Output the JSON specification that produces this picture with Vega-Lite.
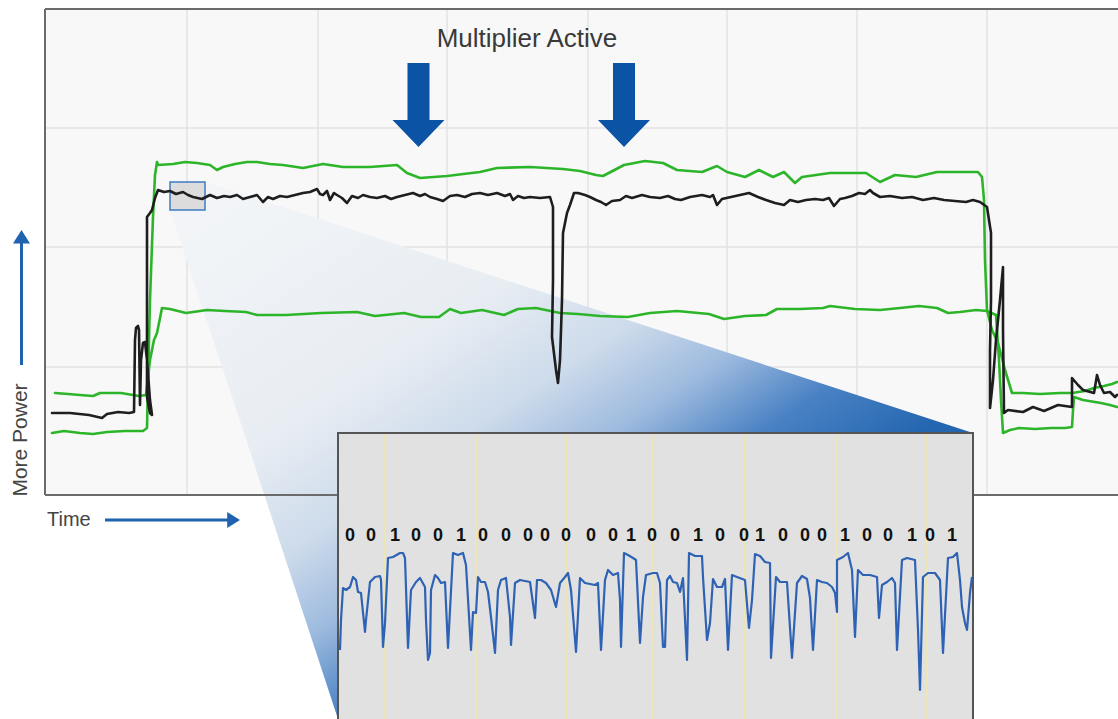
{
"$schema":"https://vega.github.io/schema/vega-lite/v6.json",
"width":1118,"height":719,"autosize":"none","padding":0,"background":"white",
"config":{"view":{"stroke":null}},
"encoding":{
 "x":{"field":"x","type":"quantitative","scale":{"domain":[0,1118],"nice":false,"zero":false},"axis":null},
 "y":{"field":"y","type":"quantitative","scale":{"domain":[0,719],"reverse":true,"nice":false,"zero":false},"axis":null}
},
"layer":[
{"data":{"values":[{"x":45,"x2":1118,"y":9,"y2":495}]},"mark":{"type":"rect","color":"#f8f8f8"},"encoding":{"x2":{"field":"x2"},"y2":{"field":"y2"}}},
{"data":{"values":[
 {"x":187,"x2":187,"y":9,"y2":495},{"x":318,"x2":318,"y":9,"y2":495},{"x":447,"x2":447,"y":9,"y2":495},{"x":588,"x2":588,"y":9,"y2":495},{"x":727,"x2":727,"y":9,"y2":495},{"x":857,"x2":857,"y":9,"y2":495},{"x":987,"x2":987,"y":9,"y2":495},
 {"x":45,"x2":1118,"y":128,"y2":128},{"x":45,"x2":1118,"y":247,"y2":247},{"x":45,"x2":1118,"y":367,"y2":367}]},
 "mark":{"type":"rule","color":"#e3e3e3","strokeWidth":1.5},"encoding":{"x2":{"field":"x2"},"y2":{"field":"y2"}}},
{"data":{"values":[{"x":206,"x2":206,"y":182},{"x":170,"x2":292,"y":210},{"x":244,"x2":973,"y":433},{"x":338,"x2":338,"y":719}]},
 "mark":{"type":"area","orient":"horizontal","color":{"gradient":"linear","x1":0,"y1":0,"x2":1,"y2":1,"stops":[
  {"offset":0,"color":"#f4f6f8"},{"offset":0.3,"color":"#e8edf3"},{"offset":0.42,"color":"#cddbeb"},{"offset":0.51,"color":"#9dbade"},{"offset":0.6,"color":"#4a82c4"},{"offset":0.7,"color":"#2466b0"},{"offset":1,"color":"#1e5fa8"}]}},
 "encoding":{"x2":{"field":"x2"}}},
{"data":{"values":[{"x":45,"x2":1118,"y":9,"y2":9},{"x":45,"x2":45,"y":9,"y2":495},{"x":45,"x2":1118,"y":495,"y2":495}]},
 "mark":{"type":"rule","color":"#6b6b6b","strokeWidth":2},"encoding":{"x2":{"field":"x2"},"y2":{"field":"y2"}}},
{"data":{"values":[{"x":170,"x2":205,"y":182,"y2":210}]},"mark":{"type":"rect","fill":"#dcdcdc","stroke":"#3d7cc4","strokeWidth":1.5},"encoding":{"x2":{"field":"x2"},"y2":{"field":"y2"}}},
{"data":{"values":[
 {"s":"g1","x":52,"y":433},{"s":"g1","x":64,"y":431},{"s":"g1","x":80,"y":433},{"s":"g1","x":93,"y":434},{"s":"g1","x":107,"y":432},{"s":"g1","x":125,"y":431},{"s":"g1","x":143,"y":431},{"s":"g1","x":147,"y":428},{"s":"g1","x":148,"y":380},{"s":"g1","x":150,"y":300},{"s":"g1","x":153,"y":217},{"s":"g1","x":155,"y":175},{"s":"g1","x":157,"y":162},{"s":"g1","x":158,"y":165},{"s":"g1","x":173,"y":164},{"s":"g1","x":185,"y":162},{"s":"g1","x":197,"y":163},{"s":"g1","x":210,"y":165},{"s":"g1","x":217,"y":170},{"s":"g1","x":223,"y":167},{"s":"g1","x":235,"y":164},{"s":"g1","x":247,"y":162},{"s":"g1","x":257,"y":162},{"s":"g1","x":270,"y":164},{"s":"g1","x":283,"y":165},{"s":"g1","x":303,"y":168},{"s":"g1","x":323,"y":164},{"s":"g1","x":343,"y":167},{"s":"g1","x":370,"y":167},{"s":"g1","x":397,"y":165},{"s":"g1","x":407,"y":173},{"s":"g1","x":420,"y":178},{"s":"g1","x":447,"y":176},{"s":"g1","x":480,"y":172},{"s":"g1","x":497,"y":168},{"s":"g1","x":530,"y":167},{"s":"g1","x":563,"y":169},{"s":"g1","x":580,"y":171},{"s":"g1","x":596,"y":175},{"s":"g1","x":603,"y":176},{"s":"g1","x":624,"y":165},{"s":"g1","x":645,"y":161},{"s":"g1","x":663,"y":163},{"s":"g1","x":677,"y":170},{"s":"g1","x":702,"y":172},{"s":"g1","x":717,"y":166},{"s":"g1","x":727,"y":172},{"s":"g1","x":745,"y":177},{"s":"g1","x":759,"y":170},{"s":"g1","x":773,"y":177},{"s":"g1","x":784,"y":172},{"s":"g1","x":795,"y":183},{"s":"g1","x":802,"y":177},{"s":"g1","x":830,"y":173},{"s":"g1","x":866,"y":173},{"s":"g1","x":880,"y":182},{"s":"g1","x":895,"y":175},{"s":"g1","x":916,"y":177},{"s":"g1","x":937,"y":172},{"s":"g1","x":960,"y":172},{"s":"g1","x":978,"y":172},{"s":"g1","x":982,"y":177},{"s":"g1","x":984,"y":200},{"s":"g1","x":985,"y":260},{"s":"g1","x":987,"y":310},{"s":"g1","x":992,"y":330},{"s":"g1","x":998,"y":343},{"s":"g1","x":1005,"y":370},{"s":"g1","x":1012,"y":393},{"s":"g1","x":1023,"y":393},{"s":"g1","x":1040,"y":394},{"s":"g1","x":1060,"y":393},{"s":"g1","x":1072,"y":393},{"s":"g1","x":1085,"y":391},{"s":"g1","x":1094,"y":388},{"s":"g1","x":1104,"y":386},{"s":"g1","x":1112,"y":384},{"s":"g1","x":1117,"y":382},
 {"s":"g2","x":55,"y":393},{"s":"g2","x":68,"y":394},{"s":"g2","x":80,"y":395},{"s":"g2","x":93,"y":396},{"s":"g2","x":100,"y":393},{"s":"g2","x":121,"y":393},{"s":"g2","x":139,"y":396},{"s":"g2","x":146,"y":395},{"s":"g2","x":150,"y":360},{"s":"g2","x":154,"y":340},{"s":"g2","x":157,"y":333},{"s":"g2","x":160,"y":318},{"s":"g2","x":162,"y":308},{"s":"g2","x":170,"y":309},{"s":"g2","x":186,"y":313},{"s":"g2","x":207,"y":310},{"s":"g2","x":225,"y":311},{"s":"g2","x":246,"y":312},{"s":"g2","x":257,"y":315},{"s":"g2","x":286,"y":315},{"s":"g2","x":321,"y":313},{"s":"g2","x":357,"y":312},{"s":"g2","x":375,"y":316},{"s":"g2","x":404,"y":313},{"s":"g2","x":421,"y":317},{"s":"g2","x":439,"y":317},{"s":"g2","x":450,"y":309},{"s":"g2","x":461,"y":313},{"s":"g2","x":482,"y":310},{"s":"g2","x":504,"y":315},{"s":"g2","x":518,"y":309},{"s":"g2","x":536,"y":308},{"s":"g2","x":560,"y":313},{"s":"g2","x":578,"y":314},{"s":"g2","x":600,"y":316},{"s":"g2","x":628,"y":317},{"s":"g2","x":650,"y":313},{"s":"g2","x":677,"y":311},{"s":"g2","x":709,"y":314},{"s":"g2","x":724,"y":319},{"s":"g2","x":745,"y":316},{"s":"g2","x":766,"y":315},{"s":"g2","x":777,"y":309},{"s":"g2","x":800,"y":309},{"s":"g2","x":823,"y":308},{"s":"g2","x":830,"y":306},{"s":"g2","x":855,"y":309},{"s":"g2","x":880,"y":310},{"s":"g2","x":900,"y":308},{"s":"g2","x":919,"y":306},{"s":"g2","x":937,"y":308},{"s":"g2","x":948,"y":313},{"s":"g2","x":960,"y":312},{"s":"g2","x":976,"y":310},{"s":"g2","x":987,"y":311},{"s":"g2","x":996,"y":315},{"s":"g2","x":999,"y":360},{"s":"g2","x":1001,"y":400},{"s":"g2","x":1003,"y":433},{"s":"g2","x":1010,"y":430},{"s":"g2","x":1019,"y":428},{"s":"g2","x":1035,"y":429},{"s":"g2","x":1051,"y":428},{"s":"g2","x":1065,"y":428},{"s":"g2","x":1072,"y":427},{"s":"g2","x":1073,"y":410},{"s":"g2","x":1074,"y":397},{"s":"g2","x":1083,"y":400},{"s":"g2","x":1101,"y":403},{"s":"g2","x":1110,"y":405},{"s":"g2","x":1117,"y":407},
 {"s":"k","x":52,"y":413},{"s":"k","x":70,"y":413},{"s":"k","x":89,"y":415},{"s":"k","x":102,"y":418},{"s":"k","x":107,"y":414},{"s":"k","x":118,"y":412},{"s":"k","x":129,"y":413},{"s":"k","x":134,"y":412},{"s":"k","x":135,"y":340},{"s":"k","x":136,"y":328},{"s":"k","x":138,"y":326},{"s":"k","x":139,"y":330},{"s":"k","x":140,"y":405},{"s":"k","x":141,"y":360},{"s":"k","x":143,"y":343},{"s":"k","x":145,"y":342},{"s":"k","x":147,"y":360},{"s":"k","x":150,"y":400},{"s":"k","x":152,"y":415},{"s":"k","x":150,"y":413},{"s":"k","x":147,"y":397},{"s":"k","x":147,"y":300},{"s":"k","x":147,"y":217},{"s":"k","x":150,"y":213},{"s":"k","x":152,"y":210},{"s":"k","x":155,"y":198},{"s":"k","x":158,"y":190},{"s":"k","x":164,"y":192},{"s":"k","x":170,"y":191},{"s":"k","x":176,"y":194},{"s":"k","x":183,"y":192},{"s":"k","x":188,"y":195},{"s":"k","x":193,"y":197},{"s":"k","x":202,"y":199},{"s":"k","x":210,"y":195},{"s":"k","x":217,"y":198},{"s":"k","x":224,"y":196},{"s":"k","x":230,"y":197},{"s":"k","x":237,"y":195},{"s":"k","x":243,"y":199},{"s":"k","x":250,"y":197},{"s":"k","x":257,"y":195},{"s":"k","x":263,"y":202},{"s":"k","x":268,"y":197},{"s":"k","x":273,"y":199},{"s":"k","x":280,"y":196},{"s":"k","x":287,"y":197},{"s":"k","x":295,"y":195},{"s":"k","x":303,"y":193},{"s":"k","x":310,"y":192},{"s":"k","x":317,"y":189},{"s":"k","x":320,"y":194},{"s":"k","x":323,"y":195},{"s":"k","x":327,"y":191},{"s":"k","x":330,"y":200},{"s":"k","x":334,"y":193},{"s":"k","x":337,"y":195},{"s":"k","x":342,"y":198},{"s":"k","x":347,"y":203},{"s":"k","x":352,"y":196},{"s":"k","x":358,"y":198},{"s":"k","x":363,"y":195},{"s":"k","x":370,"y":197},{"s":"k","x":377,"y":198},{"s":"k","x":385,"y":196},{"s":"k","x":391,"y":199},{"s":"k","x":397,"y":197},{"s":"k","x":405,"y":195},{"s":"k","x":413,"y":193},{"s":"k","x":420,"y":196},{"s":"k","x":425,"y":194},{"s":"k","x":430,"y":197},{"s":"k","x":437,"y":199},{"s":"k","x":443,"y":201},{"s":"k","x":450,"y":196},{"s":"k","x":457,"y":195},{"s":"k","x":465,"y":197},{"s":"k","x":472,"y":194},{"s":"k","x":480,"y":193},{"s":"k","x":488,"y":195},{"s":"k","x":497,"y":193},{"s":"k","x":505,"y":196},{"s":"k","x":510,"y":194},{"s":"k","x":513,"y":200},{"s":"k","x":518,"y":196},{"s":"k","x":524,"y":198},{"s":"k","x":530,"y":197},{"s":"k","x":540,"y":198},{"s":"k","x":550,"y":197},{"s":"k","x":553,"y":207},{"s":"k","x":553,"y":280},{"s":"k","x":552,"y":337},{"s":"k","x":556,"y":370},{"s":"k","x":558,"y":383},{"s":"k","x":560,"y":360},{"s":"k","x":562,"y":300},{"s":"k","x":563,"y":233},{"s":"k","x":567,"y":213},{"s":"k","x":570,"y":205},{"s":"k","x":574,"y":193},{"s":"k","x":578,"y":193},{"s":"k","x":585,"y":195},{"s":"k","x":590,"y":197},{"s":"k","x":596,"y":200},{"s":"k","x":601,"y":202},{"s":"k","x":606,"y":205},{"s":"k","x":612,"y":201},{"s":"k","x":620,"y":200},{"s":"k","x":626,"y":196},{"s":"k","x":632,"y":198},{"s":"k","x":642,"y":195},{"s":"k","x":650,"y":197},{"s":"k","x":660,"y":198},{"s":"k","x":668,"y":196},{"s":"k","x":675,"y":199},{"s":"k","x":681,"y":200},{"s":"k","x":690,"y":197},{"s":"k","x":702,"y":195},{"s":"k","x":710,"y":197},{"s":"k","x":713,"y":195},{"s":"k","x":717,"y":205},{"s":"k","x":722,"y":199},{"s":"k","x":731,"y":197},{"s":"k","x":740,"y":195},{"s":"k","x":749,"y":193},{"s":"k","x":758,"y":197},{"s":"k","x":766,"y":200},{"s":"k","x":775,"y":203},{"s":"k","x":784,"y":205},{"s":"k","x":790,"y":200},{"s":"k","x":798,"y":202},{"s":"k","x":806,"y":200},{"s":"k","x":815,"y":199},{"s":"k","x":823,"y":200},{"s":"k","x":829,"y":198},{"s":"k","x":834,"y":206},{"s":"k","x":840,"y":199},{"s":"k","x":845,"y":198},{"s":"k","x":852,"y":196},{"s":"k","x":859,"y":193},{"s":"k","x":865,"y":194},{"s":"k","x":870,"y":190},{"s":"k","x":873,"y":193},{"s":"k","x":880,"y":197},{"s":"k","x":890,"y":196},{"s":"k","x":902,"y":198},{"s":"k","x":912,"y":197},{"s":"k","x":923,"y":200},{"s":"k","x":934,"y":198},{"s":"k","x":944,"y":200},{"s":"k","x":955,"y":201},{"s":"k","x":966,"y":202},{"s":"k","x":973,"y":200},{"s":"k","x":980,"y":202},{"s":"k","x":987,"y":207},{"s":"k","x":991,"y":233},{"s":"k","x":991,"y":300},{"s":"k","x":990,"y":350},{"s":"k","x":990,"y":408},{"s":"k","x":993,"y":380},{"s":"k","x":996,"y":340},{"s":"k","x":1000,"y":300},{"s":"k","x":1003,"y":267},{"s":"k","x":1003,"y":330},{"s":"k","x":1004,"y":413},{"s":"k","x":1008,"y":410},{"s":"k","x":1023,"y":412},{"s":"k","x":1033,"y":407},{"s":"k","x":1044,"y":411},{"s":"k","x":1058,"y":405},{"s":"k","x":1072,"y":407},{"s":"k","x":1072,"y":378},{"s":"k","x":1078,"y":385},{"s":"k","x":1083,"y":390},{"s":"k","x":1094,"y":393},{"s":"k","x":1097,"y":375},{"s":"k","x":1100,"y":385},{"s":"k","x":1104,"y":393},{"s":"k","x":1110,"y":392},{"s":"k","x":1115,"y":397},{"s":"k","x":1117,"y":395}]},
 "mark":{"type":"line","order":false,"strokeWidth":2.6,"strokeJoin":"round","strokeCap":"round"},
 "encoding":{"color":{"field":"s","type":"nominal","scale":{"domain":["g1","g2","k"],"range":["#2db52a","#2db52a","#1e1e1e"]},"legend":null}}},
{"data":{"values":[{"x":418.5,"y":105},{"x":624,"y":105}]},
 "mark":{"type":"point","filled":true,"opacity":1,"strokeWidth":0,"color":"#0b53a5","size":7056,"shape":"M-0.262,-1 L0.262,-1 L0.262,0.357 L0.619,0.357 L0,1 L-0.619,0.357 L-0.262,0.357 Z"}},
{"data":{"values":[{"x":527,"y":47,"t":"Multiplier Active"}]},
 "mark":{"type":"text","font":"Liberation Sans","fontSize":26,"color":"#3a3a3a","align":"center","baseline":"alphabetic"},"encoding":{"text":{"field":"t"}}},
{"data":{"values":[{"x":47,"y":526,"t":"Time"}]},
 "mark":{"type":"text","font":"Liberation Sans","fontSize":20,"color":"#444444","align":"left","baseline":"alphabetic"},"encoding":{"text":{"field":"t"}}},
{"data":{"values":[{"x":27,"y":440,"t":"More Power"}]},
 "mark":{"type":"text","font":"Liberation Sans","fontSize":21,"color":"#444444","align":"center","baseline":"alphabetic","angle":270},"encoding":{"text":{"field":"t"}}},
{"data":{"values":[{"x":105,"x2":232,"y":520,"y2":520},{"x":21.5,"x2":21.5,"y":240,"y2":365}]},
 "mark":{"type":"rule","color":"#1f62b0","strokeWidth":3},"encoding":{"x2":{"field":"x2"},"y2":{"field":"y2"}}},
{"data":{"values":[{"x":233.6,"y":520}]},
 "mark":{"type":"point","filled":true,"opacity":1,"strokeWidth":0,"color":"#1f62b0","size":256,"shape":"M-0.8,-1 L0.8,0 L-0.8,1 Z"}},
{"data":{"values":[{"x":21.5,"y":236.8}]},
 "mark":{"type":"point","filled":true,"opacity":1,"strokeWidth":0,"color":"#1f62b0","size":289,"shape":"M-1,0.8 L0,-0.8 L1,0.8 Z"}},
{"data":{"values":[{"x":338,"x2":973,"y":433,"y2":719}]},"mark":{"type":"rect","color":"#e1e1e1"},"encoding":{"x2":{"field":"x2"},"y2":{"field":"y2"}}},
{"data":{"values":[{"x":385,"x2":385,"y":434,"y2":719},{"x":476,"x2":476,"y":434,"y2":719},{"x":567,"x2":567,"y":434,"y2":719},{"x":652,"x2":652,"y":434,"y2":719},{"x":744,"x2":744,"y":434,"y2":719},{"x":836,"x2":836,"y":434,"y2":719},{"x":927,"x2":927,"y":434,"y2":719}]},
 "mark":{"type":"rule","color":"#efe6a6","strokeWidth":1.5},"encoding":{"x2":{"field":"x2"},"y2":{"field":"y2"}}},
{"data":{"values":[{"x":337,"x2":974,"y":433,"y2":433},{"x":338,"x2":338,"y":433,"y2":719},{"x":973,"x2":973,"y":433,"y2":719}]},
 "mark":{"type":"rule","color":"#555555","strokeWidth":2},"encoding":{"x2":{"field":"x2"},"y2":{"field":"y2"}}},
{"data":{"values":[
 {"x":350,"y":541,"b":"0"},{"x":371,"y":541,"b":"0"},{"x":395,"y":541,"b":"1"},{"x":416,"y":541,"b":"0"},{"x":438,"y":541,"b":"0"},{"x":461,"y":541,"b":"1"},{"x":483,"y":541,"b":"0"},{"x":506,"y":541,"b":"0"},{"x":528,"y":541,"b":"0"},{"x":545,"y":541,"b":"0"},{"x":566,"y":541,"b":"0"},{"x":591,"y":541,"b":"0"},{"x":613,"y":541,"b":"0"},{"x":631,"y":541,"b":"1"},{"x":652,"y":541,"b":"0"},{"x":675,"y":541,"b":"0"},{"x":698,"y":541,"b":"1"},{"x":720,"y":541,"b":"0"},{"x":744,"y":541,"b":"0"},{"x":760,"y":541,"b":"1"},{"x":783,"y":541,"b":"0"},{"x":805,"y":541,"b":"0"},{"x":822,"y":541,"b":"0"},{"x":845,"y":541,"b":"1"},{"x":867,"y":541,"b":"0"},{"x":888,"y":541,"b":"0"},{"x":912,"y":541,"b":"1"},{"x":930,"y":541,"b":"0"},{"x":952,"y":541,"b":"1"}]},
 "mark":{"type":"text","font":"Liberation Sans","fontWeight":"bold","fontSize":18,"color":"#111111","align":"center","baseline":"alphabetic"},
 "encoding":{"text":{"field":"b","type":"nominal"}}},
{"data":{"values":[
 {"x":340,"y":650},{"x":341,"y":620},{"x":343,"y":588},{"x":346,"y":590},{"x":350,"y":587},{"x":353,"y":577},{"x":356,"y":580},{"x":358,"y":592},{"x":361,"y":593},{"x":365,"y":632},{"x":366,"y":620},{"x":370,"y":582},{"x":375,"y":577},{"x":380,"y":576},{"x":381,"y":580},{"x":383,"y":647},{"x":385,"y":623},{"x":388,"y":558},{"x":393,"y":557},{"x":400,"y":553},{"x":403,"y":553},{"x":405,"y":558},{"x":408,"y":648},{"x":411,"y":590},{"x":416,"y":582},{"x":420,"y":578},{"x":425,"y":587},{"x":426,"y":620},{"x":428,"y":660},{"x":430,"y":653},{"x":431,"y":590},{"x":435,"y":575},{"x":438,"y":578},{"x":441,"y":583},{"x":445,"y":582},{"x":448,"y":648},{"x":453,"y":553},{"x":458,"y":555},{"x":463,"y":553},{"x":466,"y":565},{"x":471,"y":650},{"x":473,"y":612},{"x":476,"y":613},{"x":478,"y":577},{"x":481,"y":582},{"x":485,"y":582},{"x":488,"y":592},{"x":491,"y":617},{"x":495,"y":653},{"x":498,"y":590},{"x":501,"y":580},{"x":506,"y":578},{"x":510,"y":617},{"x":511,"y":645},{"x":515,"y":583},{"x":520,"y":580},{"x":530,"y":582},{"x":535,"y":618},{"x":537,"y":580},{"x":541,"y":580},{"x":546,"y":583},{"x":551,"y":590},{"x":556,"y":607},{"x":560,"y":583},{"x":565,"y":577},{"x":568,"y":573},{"x":571,"y":590},{"x":576,"y":652},{"x":580,"y":578},{"x":585,"y":583},{"x":595,"y":585},{"x":598,"y":583},{"x":601,"y":650},{"x":605,"y":580},{"x":608,"y":570},{"x":613,"y":575},{"x":618,"y":573},{"x":620,"y":600},{"x":621,"y":647},{"x":624,"y":553},{"x":628,"y":555},{"x":633,"y":558},{"x":636,"y":560},{"x":640,"y":643},{"x":643,"y":597},{"x":646,"y":575},{"x":653,"y":573},{"x":657,"y":573},{"x":660,"y":583},{"x":663,"y":647},{"x":665,"y":647},{"x":667,"y":580},{"x":670,"y":576},{"x":673,"y":582},{"x":677,"y":583},{"x":680,"y":592},{"x":683,"y":578},{"x":687,"y":660},{"x":689,"y":553},{"x":695,"y":556},{"x":702,"y":556},{"x":703,"y":577},{"x":707,"y":640},{"x":710,"y":623},{"x":713,"y":579},{"x":717,"y":587},{"x":722,"y":587},{"x":725,"y":579},{"x":728,"y":650},{"x":732,"y":575},{"x":737,"y":577},{"x":745,"y":580},{"x":749,"y":628},{"x":752,"y":600},{"x":755,"y":554},{"x":760,"y":556},{"x":765,"y":562},{"x":770,"y":563},{"x":771,"y":658},{"x":776,"y":577},{"x":780,"y":582},{"x":787,"y":582},{"x":792,"y":658},{"x":797,"y":583},{"x":802,"y":576},{"x":807,"y":579},{"x":810,"y":598},{"x":813,"y":650},{"x":817,"y":580},{"x":822,"y":582},{"x":827,"y":583},{"x":832,"y":587},{"x":835,"y":593},{"x":837,"y":612},{"x":837,"y":560},{"x":843,"y":557},{"x":848,"y":553},{"x":852,"y":570},{"x":855,"y":637},{"x":858,"y":570},{"x":863,"y":575},{"x":870,"y":575},{"x":877,"y":577},{"x":879,"y":618},{"x":882,"y":585},{"x":887,"y":582},{"x":892,"y":578},{"x":895,"y":583},{"x":897,"y":650},{"x":902,"y":560},{"x":907,"y":558},{"x":915,"y":560},{"x":918,"y":630},{"x":920,"y":690},{"x":923,"y":577},{"x":928,"y":573},{"x":935,"y":573},{"x":940,"y":580},{"x":943,"y":653},{"x":948,"y":558},{"x":953,"y":557},{"x":957,"y":553},{"x":960,"y":580},{"x":962,"y":607},{"x":965,"y":623},{"x":967,"y":630},{"x":970,"y":593},{"x":972,"y":577}]},
 "mark":{"type":"line","order":false,"color":"#2e62b4","strokeWidth":2.2,"strokeJoin":"round"}}
]
}
